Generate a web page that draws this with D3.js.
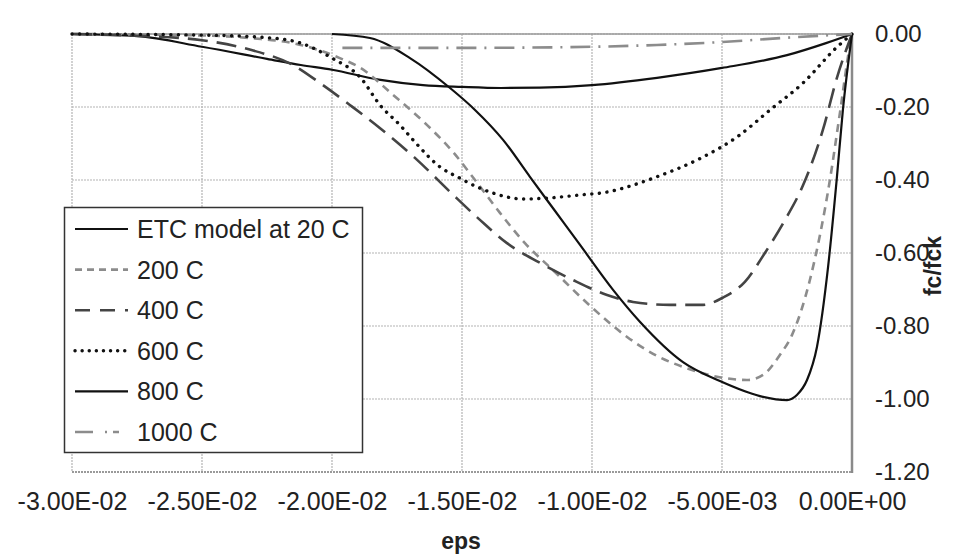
<!DOCTYPE html>
<html>
<head>
<meta charset="utf-8">
<script src="https://cdn.jsdelivr.net/npm/d3@7"></script>
<style>
  html, body { margin: 0; padding: 0; background: #fff; }
  svg { display: block; font-family: Arial, "Liberation Sans", sans-serif; }
</style>
</head>
<body>
<svg id="chart" width="953" height="554"></svg>
<script>
var xTicks = [-0.03, -0.025, -0.02, -0.015, -0.01, -0.005, 0]
var yTicks = [0, -0.2, -0.4, -0.6, -0.8, -1.0, -1.2]

var seriesNames = ['ETC model at 20 C', '200 C', '400 C', '600 C', '800 C', '1000 C']

// [eps, fc/fck]
var etc20 = [
  [-0.03, 0], [-0.0275, -0.006], [-0.025, -0.035], [-0.0225, -0.068], [-0.0212, -0.085],
  [-0.02, -0.098], [-0.0182, -0.125], [-0.0165, -0.14], [-0.015, -0.145], [-0.0135, -0.148],
  [-0.012, -0.147], [-0.01, -0.14], [-0.0075, -0.12], [-0.005, -0.093], [-0.0025, -0.058],
  [-0.001, -0.025], [0, 0]
]
var t200 = [
  [-0.03, 0], [-0.025, -0.004], [-0.023, -0.012], [-0.0215, -0.025], [-0.0197, -0.066],
  [-0.0189, -0.093], [-0.01765, -0.167], [-0.01635, -0.249], [-0.01535, -0.323], [-0.0145, -0.4],
  [-0.01354, -0.49], [-0.01258, -0.573], [-0.0115, -0.647], [-0.01019, -0.737], [-0.00865, -0.83],
  [-0.0075, -0.882], [-0.0065, -0.912], [-0.00496, -0.942], [-0.00404, -0.948], [-0.00342, -0.934],
  [-0.00277, -0.879], [-0.00231, -0.825], [-0.00162, -0.674], [-0.00085, -0.4], [-0.00046, -0.214],
  [-0.00008, -0.03], [0, 0]
]
var t400 = [
  [-0.03, 0], [-0.0275, -0.005], [-0.025, -0.017], [-0.0232, -0.042], [-0.0215, -0.085],
  [-0.02035, -0.14], [-0.0193, -0.195], [-0.01815, -0.258], [-0.0168, -0.34], [-0.01535, -0.44],
  [-0.0143, -0.51], [-0.01327, -0.573], [-0.012, -0.627], [-0.01073, -0.674], [-0.00942, -0.715],
  [-0.00842, -0.734], [-0.007, -0.742], [-0.00573, -0.742], [-0.00496, -0.722], [-0.00412, -0.679],
  [-0.00335, -0.6], [-0.00258, -0.51], [-0.00188, -0.414], [-0.00112, -0.263], [-0.00058, -0.12],
  [0, 0]
]
var t600 = [
  [-0.03, 0], [-0.025, -0.003], [-0.0225, -0.01], [-0.0212, -0.025], [-0.02, -0.066],
  [-0.0189, -0.12], [-0.01815, -0.195], [-0.01738, -0.25], [-0.01681, -0.296], [-0.01585, -0.364],
  [-0.01508, -0.395], [-0.01442, -0.419], [-0.0138, -0.436], [-0.01265, -0.452], [-0.01162, -0.449],
  [-0.01046, -0.441], [-0.00942, -0.433], [-0.00842, -0.414], [-0.00765, -0.395], [-0.00573, -0.337],
  [-0.00442, -0.282], [-0.00315, -0.208], [-0.00188, -0.134], [-0.00058, -0.036], [0, 0]
]
var t800 = [
  [-0.02, 0], [-0.01854, -0.011], [-0.017, -0.066], [-0.01546, -0.148], [-0.0145, -0.208],
  [-0.01342, -0.29], [-0.01238, -0.392], [-0.01142, -0.485], [-0.01046, -0.578], [-0.00919, -0.701],
  [-0.00815, -0.789], [-0.0065, -0.899], [-0.00508, -0.951], [-0.00354, -0.992], [-0.0025, -1.003],
  [-0.00212, -0.989], [-0.00173, -0.948], [-0.00135, -0.858], [-0.00092, -0.638], [-0.00058, -0.392],
  [-0.00035, -0.208], [0, 0]
]
var t1000 = [
  [-0.0196, -0.038], [-0.015, -0.038], [-0.01, -0.035], [-0.0075, -0.03], [-0.005, -0.022],
  [-0.0025, -0.01], [0, 0]
]

var seriesData = [etc20, t200, t400, t600, t800, t1000]

var styles = [
  { color: '#111', width: 2.2, dash: null, legendDash: null, cap: 'butt' },
  { color: '#8c8c8c', width: 2.6, dash: '8,6', legendDash: '7,5', cap: 'butt' },
  { color: '#444', width: 2.6, dash: '20,9', legendDash: '15,10', cap: 'butt' },
  { color: '#111', width: 3.4, dash: '0.1,7.5', legendDash: '0.1,7', cap: 'round' },
  { color: '#111', width: 2.2, dash: null, legendDash: null, cap: 'butt' },
  { color: '#8c8c8c', width: 2.6, dash: '20,8,2,8', legendDash: '18,12,2,6,6,40', cap: 'butt' }
]

var svg = d3.select('#chart')

var x = d3.scaleLinear().domain([-0.03, 0]).range([72, 852])
var y = d3.scaleLinear().domain([-1.2, 0]).range([472, 34])

function sci(v) {
  var s = v.toExponential(2).toUpperCase()
  return s.replace(/E([+-])(\d)$/, 'E$10$2')
}

function fixed(v) {
  return Math.abs(v) < 1e-9 ? '0.00' : v.toFixed(2)
}

// grid
var grid = svg.append('g').attr('stroke', '#b4b4b4').attr('stroke-width', 1.2).attr('stroke-dasharray', '2,1')
grid.selectAll('.gx').data(xTicks).enter().append('line')
  .attr('x1', function(d) { return x(d) }).attr('x2', function(d) { return x(d) })
  .attr('y1', y(0)).attr('y2', y(-1.2))
grid.selectAll('.gy').data(yTicks).enter().append('line')
  .attr('x1', x(-0.03)).attr('x2', x(0))
  .attr('y1', function(d) { return y(d) }).attr('y2', function(d) { return y(d) })

// frame
svg.append('line').attr('x1', x(-0.03)).attr('x2', x(0)).attr('y1', y(0)).attr('y2', y(0))
  .attr('stroke', '#999').attr('stroke-width', 1.5)
svg.append('line').attr('x1', x(0)).attr('x2', x(0)).attr('y1', y(0) - 1).attr('y2', y(-1.2) + 1)
  .attr('stroke', '#8a8a8a').attr('stroke-width', 2.5)
svg.append('line').attr('x1', x(-0.03)).attr('x2', x(0)).attr('y1', y(-1.2)).attr('y2', y(-1.2))
  .attr('stroke', '#9a9a9a').attr('stroke-width', 2.2).attr('stroke-dasharray', '2,1')

// series
var line = d3.line()
  .x(function(d) { return x(d[0]) })
  .y(function(d) { return y(d[1]) })
  .curve(d3.curveMonotoneX)

svg.append('g').selectAll('path').data(seriesData).enter().append('path')
  .attr('d', line)
  .attr('fill', 'none')
  .attr('stroke', function(d, i) { return styles[i].color })
  .attr('stroke-width', function(d, i) { return styles[i].width })
  .attr('stroke-dasharray', function(d, i) { return styles[i].dash })
  .attr('stroke-linecap', function(d, i) { return styles[i].cap })
  .attr('stroke-linejoin', 'round')

// axes
var xAxis = svg.append('g').attr('transform', 'translate(0,' + 492 + ')')
  .call(d3.axisBottom(x).tickValues(xTicks).tickSize(0).tickPadding(0).tickFormat(sci))
xAxis.select('.domain').remove()
xAxis.selectAll('text').attr('font-size', 25).attr('fill', '#222').attr('dy', '0.71em')
  .attr('font-family', 'Arial, "Liberation Sans", sans-serif')

var yAxis = svg.append('g').attr('transform', 'translate(875,0)')
  .call(d3.axisRight(y).tickValues(yTicks).tickSize(0).tickPadding(0).tickFormat(fixed))
yAxis.select('.domain').remove()
yAxis.selectAll('text').attr('font-size', 24).attr('fill', '#222')
  .attr('font-family', 'Arial, "Liberation Sans", sans-serif')

svg.append('text').attr('x', 461).attr('y', 549).attr('text-anchor', 'middle')
  .attr('font-size', 23).attr('font-weight', 'bold').attr('fill', '#222').text('eps')
svg.append('text').attr('transform', 'translate(941,266) rotate(-90)').attr('text-anchor', 'middle')
  .attr('font-size', 23).attr('font-weight', 'bold').attr('fill', '#222').text('fc/fck')

// legend
var legend = svg.append('g')
legend.append('rect').attr('x', 64.5).attr('y', 207.5).attr('width', 298).attr('height', 245)
  .attr('fill', '#fff').attr('stroke', '#333').attr('stroke-width', 1.5)

var items = legend.selectAll('.item').data(seriesNames).enter().append('g')
  .attr('transform', function(d, i) { return 'translate(0,' + (229 + i * 40.6) + ')' })
items.append('line').attr('x1', 75).attr('x2', 128).attr('y1', 0).attr('y2', 0)
  .attr('stroke', function(d, i) { return styles[i].color })
  .attr('stroke-width', function(d, i) { return styles[i].width })
  .attr('stroke-dasharray', function(d, i) { return styles[i].legendDash })
  .attr('stroke-linecap', function(d, i) { return styles[i].cap })
items.append('text').attr('x', 137).attr('y', 9).attr('font-size', 25).attr('fill', '#222')
  .text(function(d) { return d })
</script>
</body>
</html>
